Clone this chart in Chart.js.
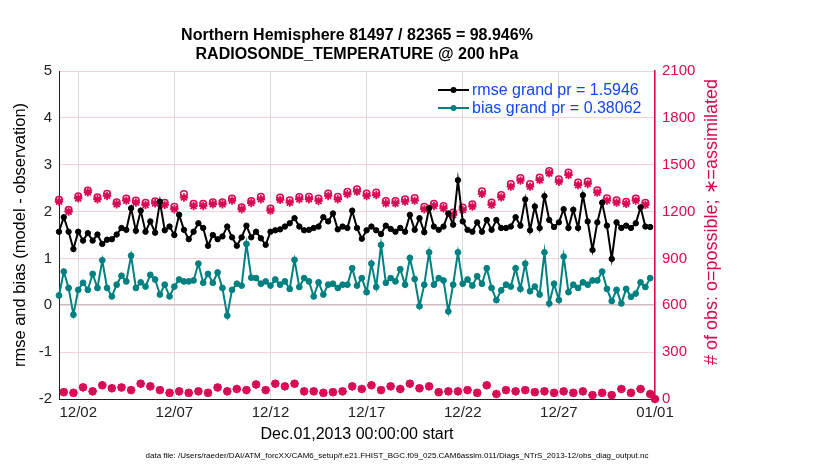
<!DOCTYPE html>
<html>
<head>
<meta charset="utf-8">
<script src="https://cdn.jsdelivr.net/npm/chart.js@4.4.1/dist/chart.umd.min.js"></script>
<style>
  html, body { margin: 0; padding: 0; background: #fff; }
  #wrap { width: 830px; height: 470px; }
</style>
</head>
<body>
<div id="wrap"><canvas id="chart" width="830" height="470"></canvas></div>
<script>
// --- data (6-hourly bins starting Dec.01 2013 00Z) ---
const binStepHours = 6;
const binCount = 125;

const xTickHours = [24, 144, 264, 384, 504, 624, 744];
const xTickLabels = ['12/02', '12/07', '12/12', '12/17', '12/22', '12/27', '01/01'];

const rmse = [
  1.57, 1.88, 1.57, 1.20, 1.57, 1.38, 1.54, 1.38, 1.51, 1.31,
  1.40, 1.41, 1.51, 1.65, 1.61, 2.07, 1.59, 2.02, 1.57, 1.79,
  1.55, 2.21, 1.60, 1.68, 1.50, 1.93, 1.61, 1.41, 1.57, 1.75,
  1.65, 1.27, 1.50, 1.41, 1.47, 1.68, 1.45, 1.27, 1.45, 1.70,
  1.45, 1.57, 1.43, 1.29, 1.57, 1.60, 1.62, 1.68, 1.75, 1.86,
  1.68, 1.60, 1.61, 1.65, 1.68, 1.88, 1.79, 1.96, 1.62, 1.68,
  1.65, 2.02, 1.65, 1.42, 1.60, 1.68, 1.60, 1.52, 1.70, 1.63,
  1.57, 1.65, 1.57, 1.93, 1.61, 1.86, 1.56, 2.07, 1.68, 1.61,
  1.68, 1.96, 1.72, 2.67, 1.79, 1.61, 1.57, 1.77, 1.57, 1.82,
  1.61, 1.82, 1.65, 1.65, 1.68, 1.88, 1.70, 2.26, 1.60, 2.11,
  1.65, 2.33, 1.82, 1.67, 1.77, 2.05, 1.65, 2.04, 1.65, 2.35,
  1.79, 1.18, 1.77, 2.19, 1.70, 0.99, 1.77, 1.65, 1.70, 1.65,
  1.75, 2.09, 1.68, 1.67
];

const bias = [
  0.21, 0.72, 0.37, -0.20, 0.33, 0.48, 0.33, 0.67, 0.37, 0.96,
  0.37, 0.19, 0.44, 0.63, 0.51, 1.06, 0.37, 0.49, 0.40, 0.65,
  0.55, 0.23, 0.44, 0.19, 0.40, 0.55, 0.51, 0.51, 0.53, 0.89,
  0.48, 0.67, 0.48, 0.70, 0.37, -0.22, 0.33, 0.46, 0.42, 1.31,
  0.59, 0.58, 0.46, 0.51, 0.42, 0.55, 0.44, 0.51, 0.35, 0.97,
  0.39, 0.58, 0.51, 0.19, 0.49, 0.23, 0.44, 0.46, 0.37, 0.44,
  0.44, 0.79, 0.42, 0.58, 0.28, 0.89, 0.39, 1.29, 0.48, 0.58,
  0.51, 0.77, 0.44, 1.01, 0.56, -0.02, 0.44, 1.13, 0.44, 0.58,
  0.53, -0.13, 0.44, 1.13, 0.46, 0.55, 0.42, 0.62, 0.46, 0.79,
  0.37, 0.11, 0.32, 0.44, 0.40, 0.79, 0.35, 0.89, 0.30, 0.40,
  0.23, 1.13, 0.04, 0.46, 0.11, 1.04, 0.28, 0.44, 0.37, 0.49,
  0.44, 0.53, 0.53, 0.72, 0.35, 0.09, 0.33, 0.04, 0.35, 0.18,
  0.25, 0.49, 0.39, 0.58
];

const nPossible = [
  1276, 44, 1212, 39, 1298, 75, 1335, 49, 1292, 88,
  1314, 69, 1259, 74, 1283, 57, 1270, 98, 1256, 81,
  1266, 57, 1256, 39, 1230, 49, 1312, 39, 1250, 49,
  1250, 39, 1260, 74, 1260, 49, 1283, 64, 1228, 57,
  1268, 93, 1295, 57, 1220, 98, 1290, 81, 1272, 98,
  1293, 49, 1294, 49, 1283, 39, 1315, 44, 1294, 49,
  1326, 81, 1343, 64, 1316, 88, 1321, 57, 1267, 81,
  1268, 64, 1279, 98, 1286, 69, 1230, 81, 1250, 44,
  1236, 49, 1193, 49, 1226, 57, 1247, 39, 1330, 88,
  1258, 32, 1306, 57, 1376, 49, 1414, 57, 1376, 44,
  1418, 49, 1460, 39, 1407, 49, 1450, 39, 1386, 49,
  1392, 25, 1336, 39, 1285, 25, 1272, 64, 1263, 39,
  1284, 64, 1256, 32, 0
];

const nAssim = [
  1264, 44, 1200, 39, 1285, 74, 1323, 49, 1279, 88,
  1300, 69, 1247, 74, 1270, 57, 1257, 98, 1243, 81,
  1253, 57, 1243, 39, 1215, 49, 1290, 39, 1236, 49,
  1236, 39, 1247, 74, 1247, 49, 1270, 64, 1215, 57,
  1255, 93, 1279, 57, 1206, 98, 1275, 81, 1257, 98,
  1279, 49, 1279, 49, 1268, 39, 1300, 44, 1279, 49,
  1311, 81, 1328, 64, 1300, 88, 1306, 57, 1253, 81,
  1253, 64, 1264, 98, 1270, 69, 1215, 81, 1236, 44,
  1221, 49, 1179, 49, 1211, 57, 1232, 39, 1313, 88,
  1243, 32, 1291, 57, 1360, 49, 1398, 57, 1360, 44,
  1402, 49, 1445, 39, 1391, 49, 1434, 39, 1370, 49,
  1377, 25, 1321, 39, 1270, 25, 1257, 64, 1249, 39,
  1270, 64, 1243, 32, 0
];

const titleLines = ['Northern Hemisphere 81497 / 82365 = 98.946%', 'RADIOSONDE_TEMPERATURE @ 200 hPa'];
const legendLabels = ['rmse grand pr = 1.5946', 'bias grand pr = 0.38062'];
const leftTitle = 'rmse and bias (model - observation)';
const rightTitle = '# of obs: o=possible; \u2217=assimilated';
const xTitle = 'Dec.01,2013 00:00:00 start';
const footText = 'data file: /Users/raeder/DAI/ATM_forcXX/CAM6_setup/f.e21.FHIST_BGC.f09_025.CAM6assim.011/Diags_NTrS_2013-12/obs_diag_output.nc';

const RMSE_COLOR = '#000000';
const BIAS_COLOR = '#008080';
const NOBS_COLOR = '#d70a53';
const FONT = "'Liberation Sans', Arial, Helvetica, sans-serif";

// bin times in hours since Dec.01 00Z
const binHours = [];
for (let k = 0; k < binCount; k++) binHours.push(k * binStepHours);

const toXY = arr => arr.map((v, i) => ({ x: binHours[i], y: v }));

// titles, axis labels, legend, footer
const annotations = {
  id: 'annotations',
  afterDraw(chart) {
    const ctx = chart.ctx;
    const area = chart.chartArea;
    const cx = (area.left + area.right) / 2;
    const cy = (area.top + area.bottom) / 2;
    ctx.save();
    ctx.textBaseline = 'middle';
    ctx.textAlign = 'center';
    ctx.fillStyle = '#000';
    ctx.font = 'bold 16px ' + FONT;
    ctx.fillText(titleLines[0], cx, 36);
    ctx.fillText(titleLines[1], cx, 55);

    ctx.font = '16px ' + FONT;
    ctx.fillText(xTitle, cx, 435);

    // y titles
    ctx.save();
    ctx.font = '16.5px ' + FONT;
    ctx.translate(20, cy);
    ctx.rotate(-Math.PI / 2);
    ctx.fillText(leftTitle, 0, 0);
    ctx.restore();

    ctx.save();
    ctx.font = '18px ' + FONT;
    ctx.fillStyle = NOBS_COLOR;
    ctx.translate(712, 222);
    ctx.rotate(-Math.PI / 2);
    ctx.fillText(rightTitle, 0, 0);
    ctx.restore();

    // footer, squeezed to the reference width
    ctx.font = '8px ' + FONT;
    const w = ctx.measureText(footText).width;
    ctx.save();
    ctx.translate(397, 456);
    ctx.scale(503 / w, 1);
    ctx.fillText(footText, 0, 0);
    ctx.restore();

    // legend
    const rows = [
      { y: 90, color: RMSE_COLOR, label: legendLabels[0] },
      { y: 108, color: BIAS_COLOR, label: legendLabels[1] }
    ];
    ctx.font = '16px ' + FONT;
    ctx.textAlign = 'left';
    rows.forEach(r => {
      ctx.strokeStyle = r.color;
      ctx.lineWidth = 2;
      ctx.beginPath();
      ctx.moveTo(438, r.y);
      ctx.lineTo(469, r.y);
      ctx.stroke();
      ctx.fillStyle = r.color;
      ctx.beginPath();
      ctx.arc(453.5, r.y, 3, 0, Math.PI * 2);
      ctx.fill();
      ctx.fillStyle = '#1446f0';
      ctx.fillText(r.label, 472, r.y + 1);
    });
    ctx.restore();
  }
};

new Chart(document.getElementById('chart'), {
  type: 'line',
  data: {
    datasets: [
      {
        label: 'rmse',
        data: toXY(rmse),
        yAxisID: 'y',
        borderColor: RMSE_COLOR,
        backgroundColor: RMSE_COLOR,
        borderWidth: 2,
        pointRadius: 2.7,
        pointBorderWidth: 1,
        pointBackgroundColor: RMSE_COLOR,
        clip: false,
        order: 1
      },
      {
        label: 'bias',
        data: toXY(bias),
        yAxisID: 'y',
        borderColor: BIAS_COLOR,
        backgroundColor: BIAS_COLOR,
        borderWidth: 2,
        pointRadius: 2.9,
        pointBorderWidth: 1,
        pointBackgroundColor: BIAS_COLOR,
        clip: false,
        order: 2
      },
      {
        label: 'possible',
        data: toXY(nPossible),
        yAxisID: 'y2',
        showLine: false,
        pointStyle: 'circle',
        pointRadius: 3.3,
        pointBorderWidth: 1.5,
        pointBorderColor: NOBS_COLOR,
        pointBackgroundColor: 'rgba(0,0,0,0)',
        clip: false,
        order: 3
      },
      {
        label: 'assimilated',
        data: toXY(nAssim),
        yAxisID: 'y2',
        showLine: false,
        pointStyle: 'star',
        pointRadius: 4.2,
        pointBorderWidth: 1.8,
        pointBorderColor: NOBS_COLOR,
        pointBackgroundColor: NOBS_COLOR,
        clip: false,
        order: 4
      }
    ]
  },
  options: {
    responsive: false,
    animation: false,
    layout: { padding: { left: 0, right: 0, top: 71, bottom: 0 } },
    plugins: { legend: { display: false }, title: { display: false }, tooltip: { enabled: false } },
    scales: {
      x: {
        type: 'linear',
        min: 0,
        max: 744,
        afterBuildTicks: s => { s.ticks = xTickHours.map(v => ({ value: v })); },
        afterFit: s => { s.height = 71; },
        ticks: {
          autoSkip: false,
          maxRotation: 0,
          padding: 5,
          color: '#222',
          font: { family: FONT, size: 15 },
          callback: v => xTickLabels[xTickHours.indexOf(v)]
        },
        grid: { color: '#dcdcdc', lineWidth: 1, drawTicks: false },
        border: { color: '#222', width: 1 }
      },
      y: {
        position: 'left',
        min: -2,
        max: 5,
        afterFit: s => { s.width = 59; },
        ticks: { stepSize: 1, padding: 7, color: '#222', font: { family: FONT, size: 15 } },
        grid: {
          drawTicks: false,
          color: c => (c.tick && c.tick.value === 0) ? '#c2c2c2' : 'rgba(0,0,0,0)',
          lineWidth: c => (c.tick && c.tick.value === 0) ? 2 : 1
        },
        border: { color: '#222', width: 1 }
      },
      y2: {
        position: 'right',
        min: 0,
        max: 2100,
        afterFit: s => { s.width = 175; },
        ticks: {
          stepSize: 300,
          padding: 7,
          color: NOBS_COLOR,
          font: { family: FONT, size: 15 },
          callback: v => String(v)
        },
        grid: { drawTicks: false, color: '#f7d2de', lineWidth: 1 },
        border: { color: NOBS_COLOR, width: 1.5 }
      }
    }
  },
  plugins: [annotations]
});
</script>
</body>
</html>
